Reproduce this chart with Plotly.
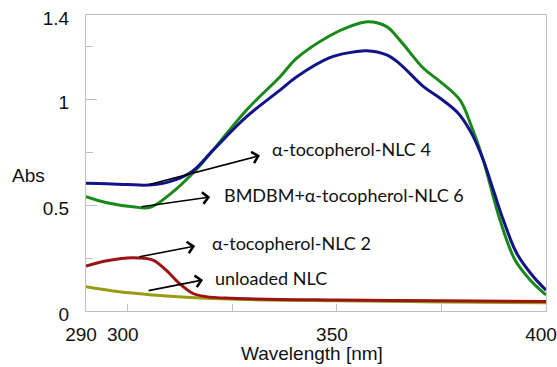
import plotly.graph_objects as go

# Wavelength [nm] and absorbance values
wl_nlc4 = [290, 295, 300, 305, 310, 315.3, 320.4, 328.4, 336.4, 340.4, 348.3, 353, 357.1, 361.9, 365.1,
           370.7, 374.7, 379.0, 382.2, 385.0, 387.4, 389.8, 393.0, 397.0, 400]
abs_nlc4 = [0.604, 0.602, 0.598, 0.596, 0.612, 0.659, 0.761, 0.919, 1.045, 1.108, 1.198, 1.222, 1.231, 1.211, 1.168,
            1.061, 1.006, 0.935, 0.84, 0.714, 0.572, 0.43, 0.273, 0.162, 0.099]

wl_nlc6 = [290, 295, 301.2, 305.3, 309.9, 316.3, 320.4, 328.4, 336.4, 340.4, 348.3, 353, 357.5, 361.9, 365.1,
           370.7, 374.7, 379.4, 382.2, 385.0, 389.0, 392.6, 396.2, 400]
abs_nlc6 = [0.541, 0.512, 0.493, 0.49, 0.549, 0.667, 0.761, 0.951, 1.108, 1.196, 1.302, 1.345, 1.368, 1.345, 1.28,
            1.148, 1.085, 0.998, 0.872, 0.714, 0.43, 0.241, 0.147, 0.076]

wl_nlc2 = [290, 295, 301.2, 306, 309.1, 312.3, 315.5, 318.7, 325, 350, 375, 400]
abs_nlc2 = [0.213, 0.238, 0.252, 0.241, 0.194, 0.131, 0.084, 0.068, 0.06, 0.052, 0.048, 0.045]

wl_unloaded = [290, 298, 306, 313.9, 325.9, 350, 375, 400]
abs_unloaded = [0.115, 0.091, 0.076, 0.065, 0.055, 0.048, 0.043, 0.039]

series_names = ["α-tocopherol-NLC 4", "BMDBM+α-tocopherol-NLC 6", "α-tocopherol-NLC 2", "unloaded NLC"]

x_tickvals = [290, 300, 350, 400]
y_tickvals = [0, 0.5, 1, 1.4]
y_ticktext = ["0", "0.5", "1", "1.4"]

# label annotations: text, text anchor (x, y), arrow tail (x, y), arrow head (x, y)
labels = [
    (series_names[0], 334.0, 0.766, 304.8, 0.596, 331.6, 0.735),
    (series_names[1], 322.5, 0.549, 302.9, 0.492, 319.7, 0.539),
    (series_names[2], 319.6, 0.322, 302.4, 0.255, 316.1, 0.307),
    (series_names[3], 320.4, 0.158, 304.6, 0.095, 318.0, 0.147),
]

fig = go.Figure()
fig.add_trace(go.Scatter(x=wl_unloaded, y=abs_unloaded, mode="lines", name=series_names[3],
                         line=dict(color="#9a9a16", width=3, shape="spline")))
fig.add_trace(go.Scatter(x=wl_nlc2, y=abs_nlc2, mode="lines", name=series_names[2],
                         line=dict(color="#9a1414", width=3, shape="spline")))
fig.add_trace(go.Scatter(x=wl_nlc6, y=abs_nlc6, mode="lines", name=series_names[1],
                         line=dict(color="#198a19", width=3, shape="spline")))
fig.add_trace(go.Scatter(x=wl_nlc4, y=abs_nlc4, mode="lines", name=series_names[0],
                         line=dict(color="#12128a", width=3, shape="spline")))

annotations = []
for text, tx, ty, ax, ay, hx, hy in labels:
    annotations.append(dict(x=tx, y=ty, xref="x", yref="y", text=text, showarrow=False,
                            xanchor="left", yanchor="middle",
                            font=dict(family="Lato", size=18, color="#111111")))
    annotations.append(dict(x=hx, y=hy, ax=ax, ay=ay, xref="x", yref="y", axref="x", ayref="y",
                            text="", showarrow=True, arrowhead=4, arrowsize=1.4, arrowwidth=1.6,
                            arrowcolor="#000000"))

annotations.append(dict(x=-0.126, y=0.459, xref="paper", yref="paper", text="Abs", showarrow=False,
                        xanchor="center", yanchor="middle",
                        font=dict(family="Liberation Sans", size=19, color="#111111")))
annotations.append(dict(x=0.491, y=-0.186, xref="paper", yref="paper", text="Wavelength [nm]",
                        showarrow=False, xanchor="center", yanchor="bottom",
                        font=dict(family="Liberation Sans", size=19, color="#111111")))

fig.update_layout(
    width=557, height=367,
    margin=dict(l=86, r=11, t=15, b=56),
    paper_bgcolor="white", plot_bgcolor="white",
    showlegend=False,
    font=dict(family="Liberation Sans", size=19, color="#111111"),
    annotations=annotations,
    xaxis=dict(range=[290, 400], tickmode="array", tickvals=x_tickvals, automargin=False,
               ticks="inside", ticklen=7, tickcolor="#bfbfbf", tickwidth=1,
               showline=True, linecolor="#bfbfbf", linewidth=1, mirror=True,
               showgrid=False, zeroline=False, ticklabelshift=-5, ticklabelstandoff=6,
               minor=dict(tick0=0, dtick=25, ticks="inside", ticklen=7, tickcolor="#bfbfbf")),
    yaxis=dict(range=[0, 1.4], tickmode="array", tickvals=y_tickvals, ticktext=y_ticktext,
               automargin=False,
               ticks="inside", ticklen=11, tickcolor="#bfbfbf", tickwidth=1,
               showline=True, linecolor="#bfbfbf", linewidth=1, mirror=True,
               showgrid=False, zeroline=False, ticklabelshift=3, ticklabelstandoff=12,
               minor=dict(tick0=0, dtick=0.25, ticks="inside", ticklen=7, tickcolor="#bfbfbf")),
)

fig.write_html("out.html")
